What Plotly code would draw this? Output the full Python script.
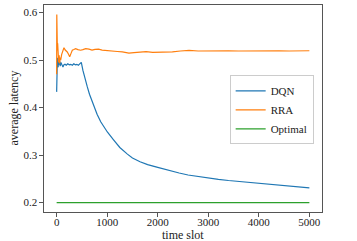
import plotly.graph_objects as go

dqn_t = [0, 3, 6, 10, 15, 20, 25, 30, 40, 50, 60, 70, 85, 105, 125, 145, 165, 190, 220, 250,
         280, 310, 340, 370, 400, 430, 460, 488, 520, 560, 607, 650, 700, 739, 800, 872, 940,
         1003, 1122, 1250, 1400, 1500, 1650, 1800, 2000, 2200, 2424, 2600, 2800, 3000, 3200,
         3400, 3600, 3800, 4000, 4200, 4400, 4600, 4800, 5000]
dqn_v = [0.433, 0.47, 0.50, 0.483, 0.505, 0.487, 0.50, 0.485, 0.503, 0.49, 0.498, 0.487, 0.495,
         0.49, 0.4855, 0.49, 0.491, 0.489, 0.492, 0.490, 0.491, 0.489, 0.492, 0.490, 0.491, 0.489,
         0.492, 0.495, 0.478, 0.46, 0.4434, 0.428, 0.413, 0.401, 0.386, 0.370, 0.359, 0.3486,
         0.3326, 0.316, 0.302, 0.294, 0.286, 0.280, 0.274, 0.268, 0.2623, 0.258, 0.2545, 0.2515,
         0.249, 0.2465, 0.2445, 0.2425, 0.2405, 0.239, 0.2365, 0.235, 0.233, 0.231]

rra_t = [0, 3, 6, 10, 15, 20, 25, 30, 40, 50, 60, 70, 80, 100, 120, 145, 170, 210, 235, 258,
         285, 310, 340, 376, 420, 475, 520, 575, 640, 700, 760, 830, 900, 1000, 1100, 1200, 1300,
         1430, 1530, 1630, 1770, 1900, 2030, 2150, 2290, 2450, 2620, 2800, 3000, 3200, 3400,
         3600, 3800, 4000, 4200, 4400, 4600, 4800, 5000]
rra_v = [0.47, 0.596, 0.545, 0.56, 0.52, 0.535, 0.50, 0.515, 0.495, 0.51, 0.493, 0.505, 0.50,
         0.512, 0.52, 0.526, 0.521, 0.517, 0.512, 0.507, 0.514, 0.5206, 0.522, 0.524, 0.522,
         0.5206, 0.522, 0.524, 0.523, 0.521, 0.5225, 0.523, 0.521, 0.5195, 0.519, 0.518, 0.517,
         0.5145, 0.5155, 0.517, 0.5175, 0.516, 0.5165, 0.516, 0.517, 0.519, 0.5205, 0.519,
         0.5195, 0.519, 0.5195, 0.519, 0.5195, 0.5195, 0.519, 0.5195, 0.519, 0.519, 0.5195]

opt_t = [0, 5000]
opt_v = [0.2, 0.2]

x_ticks = [0, 1000, 2000, 3000, 4000, 5000]
y_ticks = [0.2, 0.3, 0.4, 0.5, 0.6]

font = "Liberation Serif"

fig = go.Figure()
fig.add_trace(go.Scatter(x=dqn_t, y=dqn_v, mode="lines", name="DQN",
                         line=dict(color="#1f77b4", width=1.2)))
fig.add_trace(go.Scatter(x=rra_t, y=rra_v, mode="lines", name="RRA",
                         line=dict(color="#ff7f0e", width=1.2)))
fig.add_trace(go.Scatter(x=opt_t, y=opt_v, mode="lines", name="Optimal",
                         line=dict(color="#2ca02c", width=1.2)))

axis_common = dict(showgrid=False, zeroline=False, showline=True, mirror=True,
                   linecolor="#555", linewidth=1.2, ticks="outside", ticklen=3.5,
                   tickcolor="#555", tickwidth=1, automargin=False,
                   tickfont=dict(family=font, size=11, color="#222"))

fig.update_xaxes(range=[-250, 5250], tickvals=x_ticks, ticktext=[str(v) for v in x_ticks],
                 ticklabelstandoff=-4, **axis_common)
fig.update_yaxes(range=[0.1802, 0.6158], tickvals=y_ticks,
                 ticktext=[f"{v:.1f}" for v in y_ticks],
                 **axis_common)

fig.add_annotation(text="time slot", xref="paper", yref="paper", x=0.5, y=-0.113,
                   xanchor="center", yanchor="middle", showarrow=False,
                   font=dict(family=font, size=12, color="#222"))
fig.add_annotation(text="average latency", xref="paper", yref="paper", x=-0.1115, y=0.5,
                   xanchor="center", yanchor="middle", textangle=-90, showarrow=False,
                   font=dict(family=font, size=12, color="#222"))

fig.update_layout(
    width=357, height=241,
    margin=dict(l=44, r=35, t=5, b=29),
    paper_bgcolor="white", plot_bgcolor="white",
    font=dict(family=font, size=11, color="#222"),
    legend=dict(x=0.97, y=0.66, xanchor="right", yanchor="top",
                bgcolor="rgba(255,255,255,0.9)", bordercolor="#ccc", borderwidth=1,
                font=dict(family=font, size=11, color="#222"),
                tracegroupgap=0, itemwidth=30),
    showlegend=True,
)

fig.write_html("out.html", config={"displayModeBar": False},
               post_script="document.body.style.margin='0';")
